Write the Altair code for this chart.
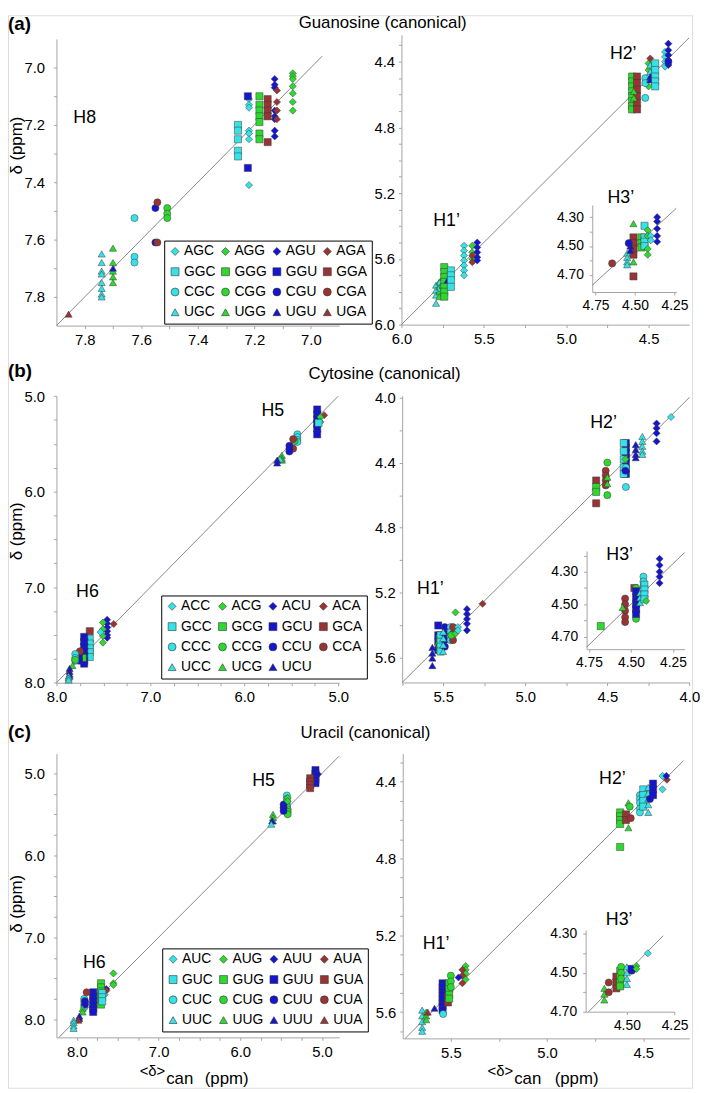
import json
import numpy as np
import pandas as pd
import altair as alt

FONT = "Liberation Sans"
CYAN, GREEN, BLUE, RED = "#36e2e6", "#2ed82e", "#1515cf", "#983434"
AXIS_GRAY = "#a4a4a4"
LINE_GRAY = "#7a7a7a"
SHAPE_OF = {"A": "diamond", "G": "square", "C": "circle", "U": "triangle-up"}
COLOR_OF = {"C": CYAN, "G": GREEN, "U": BLUE, "A": RED}


def order_for(mid, drop=()):
    return [a + mid + b for a in "AGCU" for b in "CGUA" if a + mid + b not in drop]


ORDER_A = order_for("G")
ORDER_B = order_for("C", drop=("UCA",))
ORDER_C = order_for("U")

# ---------------- (a) Guanosine ----------------
A_H8 = {
    "UGA": (7.857, [7.86]),
    "UGC": (7.74, [7.65, 7.68, 7.71, 7.72, 7.75, 7.77, 7.79, 7.80]),
    "UGG": (7.70, [7.63, 7.68, 7.71, 7.73, 7.75]),
    "UGU": (7.70, [7.70]),
    "CGC": (7.624, [7.525, 7.66, 7.68]),
    "CGU": (7.55, [7.49, 7.61]),
    "CGA": (7.543, [7.47, 7.61]),
    "CGG": (7.508, [7.49, 7.51, 7.525]),
    "GGC": (7.258, [7.20, 7.22, 7.25, 7.29, 7.31]),
    "AGC": (7.219, [7.11, 7.13, 7.14, 7.22, 7.23, 7.25, 7.41]),
    "GGU": (7.223, [7.10, 7.35]),
    "GGG": (7.182, [7.10, 7.13, 7.15, 7.17, 7.19, 7.23, 7.25]),
    "GGA": (7.153, [7.11, 7.13, 7.15, 7.17, 7.26]),
    "AGU": (7.128, [7.04, 7.06, 7.07, 7.15, 7.17, 7.18, 7.22, 7.24]),
    "AGA": (7.12, [7.08, 7.12, 7.15, 7.18]),
    "AGG": (7.064, [7.02, 7.03, 7.04, 7.065, 7.09, 7.12, 7.15]),
}
A_H1 = {
    "UGC": (5.79, [5.76, 5.79, 5.82, 5.87]),
    "UGG": (5.77, [5.74, 5.77, 5.80, 5.83]),
    "CGC": (5.76, [5.75, 5.78]),
    "CGG": (5.75, [5.77]),
    "CGU": (5.74, [5.72]),
    "GGG": (5.74, [5.65, 5.68, 5.71, 5.74, 5.77, 5.80, 5.83]),
    "UGU": (5.72, [5.73]),
    "GGC": (5.70, [5.67, 5.70, 5.73, 5.77]),
    "AGC": (5.62, [5.52, 5.55, 5.58, 5.61, 5.64, 5.67, 5.70]),
    "AGG": (5.57, [5.52, 5.56, 5.60]),
    "AGA": (5.57, [5.58, 5.62]),
    "AGU": (5.54, [5.50, 5.53, 5.56, 5.59, 5.61]),
}
A_H2 = {
    "GGG": (4.60, [4.49, 4.52, 4.55, 4.58, 4.61, 4.64, 4.67, 4.69]),
    "GGA": (4.57, [4.49, 4.53, 4.57, 4.61, 4.65, 4.69]),
    "UGG": (4.59, [4.58, 4.62]),
    "AGG": (4.50, [4.41, 4.45, 4.55]),
    "CGC": (4.52, [4.50, 4.53, 4.62]),
    "UGC": (4.49, [4.42, 4.46, 4.50]),
    "UGU": (4.49, [4.49, 4.51]),
    "AGA": (4.49, [4.38]),
    "GGC": (4.46, [4.41, 4.45, 4.49, 4.52, 4.55]),
    "AGC": (4.40, [4.34, 4.37, 4.40, 4.43]),
    "AGU": (4.38, [4.29, 4.33, 4.36, 4.39, 4.42]),
    "CGU": (4.38, [4.40]),
}
A_H3 = {
    "CGA": (4.645, [4.62]),
    "UGC": (4.55, [4.55, 4.58, 4.61, 4.63]),
    "UGG": (4.51, [4.345, 4.61]),
    "GGA": (4.51, [4.44, 4.48, 4.52, 4.56, 4.71]),
    "UGU": (4.53, [4.50, 4.53]),
    "CGU": (4.54, [4.48]),
    "GGG": (4.46, [4.44, 4.48, 4.51]),
    "GGC": (4.44, [4.36, 4.44, 4.47, 4.50]),
    "AGG": (4.42, [4.39, 4.43, 4.52, 4.56]),
    "AGC": (4.40, [4.43, 4.46]),
    "AGU": (4.36, [4.30, 4.33, 4.38, 4.43, 4.47]),
}

# ---------------- (b) Cytosine ----------------
B_H6 = {
    "ACA": (7.39, [7.385]),
    "ACU": (7.46, [7.34, 7.38, 7.42, 7.46, 7.50, 7.53]),
    "ACG": (7.505, [7.37, 7.44, 7.51, 7.58]),
    "ACC": (7.53, [7.47]),
    "GCA": (7.645, [7.46]),
    "GCC": (7.645, [7.54, 7.59, 7.64, 7.68, 7.73]),
    "GCU": (7.705, [7.52, 7.57, 7.62, 7.67, 7.72, 7.77, 7.80]),
    "GCG": (7.72, [7.74]),
    "CCU": (7.76, [7.69, 7.72, 7.75, 7.77]),
    "CCA": (7.75, [7.67]),
    "CCC": (7.80, [7.70, 7.74, 7.77]),
    "CCG": (7.80, [7.76]),
    "UCG": (7.83, [7.82]),
    "UCU": (7.86, [7.85, 7.88, 7.91, 7.93]),
    "UCC": (7.87, [7.93, 7.95, 7.97]),
}
B_H5 = {
    "GCU": (5.224, [5.14, 5.19, 5.24, 5.29, 5.34, 5.40]),
    "ACA": (5.15, [5.20]),
    "ACG": (5.19, [5.22, 5.27]),
    "GCC": (5.21, [5.28]),
    "CCC": (5.435, [5.40, 5.43, 5.46, 5.48]),
    "CCG": (5.465, [5.47]),
    "CCA": (5.48, [5.45, 5.55]),
    "CCU": (5.52, [5.52, 5.55, 5.58]),
    "UCG": (5.60, [5.62, 5.65, 5.67]),
    "UCC": (5.62, [5.66]),
    "UCU": (5.65, [5.67, 5.70]),
}
B_H1 = {
    "UCU": (5.566, [5.535, 5.57, 5.60, 5.646]),
    "GCU": (5.53, [5.40, 5.46, 5.50, 5.55]),
    "GCG": (5.52, [5.48, 5.52, 5.55]),
    "UCG": (5.53, [5.50]),
    "GCC": (5.516, [5.46, 5.50, 5.53, 5.56]),
    "CCU": (5.49, [5.41, 5.45, 5.49, 5.53]),
    "UCC": (5.50, [5.44, 5.48, 5.52, 5.56]),
    "CCC": (5.455, [5.41, 5.44, 5.47, 5.49]),
    "CCA": (5.44, [5.41, 5.45, 5.49]),
    "CCG": (5.45, [5.46]),
    "ACG": (5.425, [5.32, 5.45]),
    "ACC": (5.41, [5.41, 5.43]),
    "ACU": (5.355, [5.30, 5.33, 5.36, 5.39, 5.43]),
    "ACA": (5.26, [5.267]),
}
B_H2 = {
    "ACC": (4.112, [4.12]),
    "ACU": (4.20, [4.16, 4.19, 4.22, 4.27]),
    "UCC": (4.287, [4.24, 4.27, 4.30, 4.33, 4.35]),
    "UCU": (4.327, [4.29, 4.32, 4.35, 4.37]),
    "GCU": (4.387, [4.28, 4.31, 4.34, 4.37, 4.40, 4.44, 4.47]),
    "GCC": (4.40, [4.28, 4.33, 4.38, 4.43, 4.47]),
    "CCC": (4.387, [4.43, 4.55]),
    "CCU": (4.39, [4.45]),
    "ACG": (4.39, [4.38]),
    "CCG": (4.50, [4.40, 4.60]),
    "CCA": (4.51, [4.45, 4.48, 4.51, 4.54]),
    "UCG": (4.50, [4.49, 4.53]),
    "GCA": (4.568, [4.51, 4.65]),
    "GCG": (4.568, [4.55, 4.58]),
}
B_H3 = {
    "GCG": (4.68, [4.635]),
    "CCA": (4.535, [4.465, 4.50, 4.54, 4.58, 4.61]),
    "UCG": (4.55, [4.52]),
    "GCA": (4.48, [4.40]),
    "CCG": (4.47, [4.40, 4.59]),
    "GCU": (4.47, [4.42, 4.46, 4.50, 4.53, 4.56]),
    "UCU": (4.46, [4.44, 4.48]),
    "UCC": (4.446, [4.43, 4.46, 4.49]),
    "CCC": (4.426, [4.33, 4.36, 4.39]),
    "GCC": (4.42, [4.38, 4.41, 4.44, 4.47]),
    "ACG": (4.41, [4.48]),
    "ACU": (4.33, [4.22, 4.26, 4.30, 4.33, 4.37]),
}

# ---------------- (c) Uracil ----------------
C_H5 = {
    "GUU": (5.08, [4.96, 5.00, 5.04, 5.08, 5.12]),
    "AUU": (5.05, [5.01]),
    "GUA": (5.145, [5.06, 5.10, 5.14, 5.18]),
    "CUC": (5.43, [5.27, 5.31, 5.35, 5.39, 5.41]),
    "CUG": (5.42, [5.44, 5.47, 5.50]),
    "CUU": (5.47, [5.38, 5.42, 5.46]),
    "AUG": (5.42, [5.30, 5.34]),
    "UUG": (5.60, [5.50, 5.54, 5.58]),
    "UUU": (5.61, [5.58]),
    "UUC": (5.62, [5.62]),
}
C_H6 = {
    "AUG": (7.553, [7.44, 7.56, 7.58]),
    "AUU": (7.64, [7.63]),
    "AUA": (7.64, [7.65]),
    "AUC": (7.66, [7.70]),
    "GUG": (7.705, [7.56, 7.61, 7.66, 7.71, 7.76, 7.82]),
    "GUC": (7.69, [7.68, 7.73, 7.78]),
    "GUU": (7.80, [7.67, 7.72, 7.77, 7.82, 7.87, 7.91]),
    "CUC": (7.91, [7.75, 7.78, 7.82, 7.85]),
    "CUU": (7.90, [7.78, 7.82]),
    "CUA": (7.88, [7.67]),
    "UUG": (7.93, [7.87, 7.91]),
    "UUU": (7.97, [7.96, 7.99]),
    "UUA": (7.98, [8.01]),
    "UUC": (8.04, [8.01, 8.04, 8.08, 8.11]),
}
C_H1 = {
    "UUC": (5.649, [5.59, 5.62, 5.65, 5.68, 5.70]),
    "UUG": (5.628, [5.60, 5.62, 5.64]),
    "UUA": (5.62, [5.60]),
    "UUU": (5.585, [5.58]),
    "GUU": (5.543, [5.45, 5.47, 5.49, 5.51, 5.53, 5.55, 5.57, 5.59]),
    "CUC": (5.54, [5.61]),
    "GUA": (5.515, [5.52, 5.55]),
    "GUG": (5.509, [5.45, 5.48, 5.51, 5.53]),
    "CUG": (5.50, [5.41, 5.44, 5.47]),
    "AUG": (5.423, [5.36, 5.38, 5.40, 5.43]),
    "AUA": (5.44, [5.38, 5.41, 5.45]),
    "AUU": (5.46, [5.42]),
}
C_H2 = {
    "GUG": (4.62, [4.56, 4.58, 4.60, 4.62, 4.74]),
    "GUA": (4.59, [4.57, 4.60]),
    "UUG": (4.577, [4.51, 4.64]),
    "CUA": (4.565, [4.59]),
    "CUG": (4.57, [4.53]),
    "CUC": (4.517, [4.47, 4.49, 4.51, 4.54, 4.56]),
    "GUC": (4.50, [4.44, 4.47, 4.50, 4.53]),
    "UUC": (4.474, [4.43, 4.46, 4.49, 4.52, 4.56]),
    "GUU": (4.449, [4.41, 4.44, 4.47]),
    "CUU": (4.465, [4.49]),
    "AUC": (4.40, [4.37, 4.44]),
    "AUA": (4.377, [4.39]),
    "AUU": (4.38, [4.37]),
}
C_H3 = {
    "UUG": (4.618, [4.58, 4.61, 4.64]),
    "CUA": (4.595, [4.55, 4.60]),
    "GUA": (4.555, [4.52, 4.55, 4.58]),
    "GUG": (4.535, [4.49, 4.52, 4.55, 4.57]),
    "CUG": (4.53, [4.47, 4.50, 4.53]),
    "UUC": (4.50, [4.47, 4.50, 4.53, 4.56]),
    "CUU": (4.475, [4.49]),
    "GUU": (4.475, [4.48]),
    "AUG": (4.45, [4.465, 4.48]),
    "AUC": (4.39, [4.40]),
}

# proton labels (text, x, y in data units)
A_LEFT_LABELS = [("H8", 7.80, 7.176)]
A_RIGHT_LABELS = [("H2\u2019", 4.654, 4.355), ("H1\u2019", 5.726, 5.367), ("H3\u2019", 4.669, 5.227)]
B_LEFT_LABELS = [("H5", 5.697, 5.155), ("H6", 7.67, 7.05)]
B_RIGHT_LABELS = [("H2\u2019", 4.523, 4.157), ("H1\u2019", 5.578, 5.177), ("H3\u2019", 4.425, 4.965)]
C_LEFT_LABELS = [("H5", 5.715, 5.10), ("H6", 7.787, 7.315)]
C_RIGHT_LABELS = [("H2\u2019", 4.66, 4.385), ("H1\u2019", 5.577, 5.248), ("H3\u2019", 4.625, 5.12)]

ROW_TITLES = ["Guanosine (canonical)", "Cytosine (canonical)", "Uracil (canonical)"]
ROW_LETTERS = ["(a)", "(b)", "(c)"]

# one drawing area covering the page below/right of the 8px margin
W, H = 692, 1085


def R(v):
    return v - 8


def table(*groups):
    rows = [{"seq": s, "x": x, "y": y}
            for g in groups for s, (x, ys) in g.items() for y in ys]
    return pd.DataFrame(rows)


def tick_axis(lo, hi, step, majors, cmp_fmt, lab_fmt, size=15, **kw):
    vals = [round(float(v), 4) for v in np.arange(lo, hi + step / 2, step)]
    maj = [format(m, cmp_fmt) for m in majors]
    expr = ("indexof(%s, format(datum.value, '%s')) >= 0 ? format(datum.value, '%s') : ''"
            % (json.dumps(maj), cmp_fmt, lab_fmt))
    base = dict(values=vals, labelExpr=expr, title=None, grid=False,
                domainColor=AXIS_GRAY, domainWidth=1, tickColor=AXIS_GRAY,
                tickSize=3, tickWidth=1, labelFont=FONT, labelFontSize=size,
                labelColor="black", labelFlush=False, labelOverlap=False)
    base.update(kw)
    return alt.Axis(**base)


def x_axis(lo, hi, step, majors, cmp_fmt, lab_fmt, ybottom, size=15, pad=4):
    return tick_axis(lo, hi, step, majors, cmp_fmt, lab_fmt, size=size,
                     orient="bottom", offset=-(H - R(ybottom)), labelPadding=pad)


def y_axis(lo, hi, step, majors, cmp_fmt, lab_fmt, xleft, size=15, pad=4):
    return tick_axis(lo, hi, step, majors, cmp_fmt, lab_fmt, size=size,
                     orient="left", offset=-R(xleft), labelPadding=pad)


def xsc(lo, hi, xl, xr):
    # larger values on the left
    return alt.Scale(domain=[lo, hi], range=[R(xr), R(xl)], nice=False, zero=False)


def ysc(lo, hi, yt, yb):
    # larger values at the bottom
    return alt.Scale(domain=[lo, hi], range=[R(yt), R(yb)], nice=False, zero=False)


def ann(text, x, y, size=17, weight="normal", align="left", baseline="middle", angle=0):
    return alt.Chart(pd.DataFrame({"t": [text]})).mark_text(
        font=FONT, fontSize=size, fontWeight=weight, align=align,
        baseline=baseline, color="black", angle=angle
    ).encode(x=alt.value(R(x)), y=alt.value(R(y)), text="t:N")


def group(df, xs, ys, xa, ya, order, legend, diag, labels):
    X = alt.X("x:Q", scale=xs, axis=xa)
    Y = alt.Y("y:Q", scale=ys, axis=ya)
    line = alt.Chart(pd.DataFrame({"x": diag, "y": diag})).mark_line(
        color=LINE_GRAY, strokeWidth=0.9).encode(x=X, y=Y)
    pts = alt.Chart(df).mark_point(
        filled=True, opacity=1, size=52, stroke="#3a3a3a", strokeWidth=0.5
    ).encode(
        x=X, y=Y,
        color=alt.Color("seq:N", scale=alt.Scale(domain=order, range=[COLOR_OF[s[2]] for s in order]), legend=legend),
        shape=alt.Shape("seq:N", scale=alt.Scale(domain=order, range=[SHAPE_OF[s[0]] for s in order]), legend=legend),
    )
    layers = [line, pts]
    if labels:
        layers.append(alt.Chart(pd.DataFrame(labels, columns=["t", "x", "y"])).mark_text(
            font=FONT, fontSize=18, color="black").encode(x=X, y=Y, text="t:N"))
    return alt.layer(*layers)


def legend_at(x, y):
    return alt.Legend(title=None, orient="none", legendX=R(x), legendY=R(y), columns=4,
                      direction="horizontal", gridAlign="each", symbolSize=64,
                      symbolStrokeColor="#333", symbolStrokeWidth=0.6, labelFont=FONT,
                      labelFontSize=14, labelColor="black", labelOffset=2,
                      strokeColor="black", fillColor="white", padding=4,
                      rowPadding=6.5, columnPadding=3)


MAJ_A = [7.0, 7.2, 7.4, 7.6, 7.8]
INT4 = [5.0, 6.0, 7.0, 8.0]

groups = [
    # (a) left  H8
    group(table(A_H8), xsc(6.9, 7.9, 57, 343), ysc(6.9, 7.9, 32, 322),
          x_axis(7.0, 7.8, 0.1, MAJ_A, ".1f", ".1f", 322),
          y_axis(7.0, 7.8, 0.1, MAJ_A, ".1f", ".1f", 57, pad=9),
          ORDER_A, legend_at(166, 236), [7.9, 6.96], A_LEFT_LABELS),
    # (a) right  H1', H2'
    group(table(A_H1, A_H2), xsc(4.254, 6.0, 406, 697), ysc(4.237, 6.0, 28, 321),
          x_axis(4.5, 6.0, 0.25, [4.5, 5.0, 5.5, 6.0], ".2f", ".1f", 321),
          y_axis(4.3, 6.0, 0.1, [4.4, 4.8, 5.2, 5.6, 6.0], ".1f", ".1f", 406),
          ORDER_A, None, [6.0, 4.254], A_RIGHT_LABELS),
    # (a) inset H3'
    group(table(A_H3), xsc(4.239, 4.771, 599, 684), ysc(4.216, 4.818, 200, 288),
          x_axis(4.25, 4.75, 0.25, [4.25, 4.5, 4.75], ".2f", ".2f", 288, size=14, pad=4),
          y_axis(4.3, 4.7, 0.1, [4.3, 4.5, 4.7], ".2f", ".2f", 599, size=14, pad=6),
          ORDER_A, None, [4.771, 4.239], []),
    # (b) left  H6, H5
    group(table(B_H6, B_H5), xsc(4.99, 8.0, 57, 343), ysc(5.0, 8.0, 393.3, 683.3),
          x_axis(5.0, 8.0, 0.25, INT4, ".2f", ".1f", 683.3),
          y_axis(5.0, 8.0, 0.25, INT4, ".2f", ".1f", 57, pad=9),
          ORDER_B, legend_at(163, 595), [8.0, 5.0], B_LEFT_LABELS),
    # (b) right  H1', H2'
    group(table(B_H1, B_H2), xsc(4.0, 5.75, 406.7, 697.3), ysc(3.99, 5.75, 393, 683),
          x_axis(4.0, 5.75, 0.25, [4.0, 4.5, 5.0, 5.5], ".2f", ".1f", 683),
          y_axis(4.0, 5.6, 0.2, [4.0, 4.4, 4.8, 5.2, 5.6], ".1f", ".1f", 406.7),
          ORDER_B, None, [5.75, 4.0], B_RIGHT_LABELS),
    # (b) inset H3'
    group(table(B_H3), xsc(4.182, 4.764, 593.3, 692.3), ysc(4.172, 4.777, 550, 649.3),
          x_axis(4.25, 4.75, 0.25, [4.25, 4.5, 4.75], ".2f", ".2f", 649.3, size=14, pad=4),
          y_axis(4.2, 4.7, 0.1, [4.3, 4.5, 4.7], ".2f", ".2f", 593.3, size=14, pad=6),
          ORDER_B, None, [4.764, 4.182], []),
    # (c) left  H6, H5
    group(table(C_H6, C_H5), xsc(4.79, 8.25, 57, 343), ysc(4.76, 8.22, 755, 1042),
          x_axis(5.0, 8.0, 0.25, INT4, ".2f", ".1f", 1042),
          y_axis(5.0, 8.0, 0.25, INT4, ".2f", ".1f", 57, pad=9),
          ORDER_C, legend_at(164, 952), [8.22, 4.79], C_LEFT_LABELS),
    # (c) right  H1', H2'
    group(table(C_H1, C_H2), xsc(4.26, 5.75, 407.3, 697.3), ysc(4.254, 5.737, 755, 1043),
          x_axis(4.5, 5.5, 0.25, [4.5, 5.0, 5.5], ".2f", ".1f", 1043),
          y_axis(4.3, 5.7, 0.1, [4.4, 4.8, 5.2, 5.6], ".1f", ".1f", 407.3),
          ORDER_C, None, [5.737, 4.29], C_RIGHT_LABELS),
    # (c) inset H3'
    group(table(C_H3), xsc(4.25, 4.716, 592.3, 682.3), ysc(4.28, 4.70, 933.3, 1016),
          x_axis(4.25, 4.5, 0.25, [4.25, 4.5], ".2f", ".2f", 1016, size=14, pad=4),
          y_axis(4.3, 4.7, 0.1, [4.3, 4.5, 4.7], ".2f", ".2f", 592.3, size=14, pad=6),
          ORDER_C, None, [4.70, 4.31], []),
]

texts = [
    ann(ROW_LETTERS[0], 8, 8, size=19, weight="bold", baseline="top"),
    ann(ROW_TITLES[0], 302, 8, baseline="top"),
    ann(ROW_LETTERS[1], 8, 368, size=19, weight="bold"),
    ann(ROW_TITLES[1], 312, 371.5),
    ann(ROW_LETTERS[2], 8, 733, size=19, weight="bold"),
    ann(ROW_TITLES[2], 304, 734),
    ann("\u03b4 (ppm)", 17, 140, align="center", angle=270),
    ann("\u03b4 (ppm)", 17, 530, align="center", angle=270),
    ann("\u03b4 (ppm)", 17, 907, align="center", angle=270),
    ann("<\u03b4>", 167, 1081, size=15, align="right", baseline="alphabetic"),
    ann("can", 168, 1089, baseline="alphabetic"),
    ann("(ppm)", 207, 1089, baseline="alphabetic"),
    ann("<\u03b4>", 519, 1081, size=15, align="right", baseline="alphabetic"),
    ann("can", 520, 1089, baseline="alphabetic"),
    ann("(ppm)", 561, 1089, baseline="alphabetic"),
]

chart = alt.layer(*groups, *texts).resolve_scale(
    x="independent", y="independent", color="independent", shape="independent"
).properties(
    width=W, height=H, padding={"left": 0, "top": 0, "right": 0, "bottom": 0}
).configure_view(stroke=None).configure(font=FONT, background="white")

chart.save("out.html", embed_options={"renderer": "svg", "actions": False})
